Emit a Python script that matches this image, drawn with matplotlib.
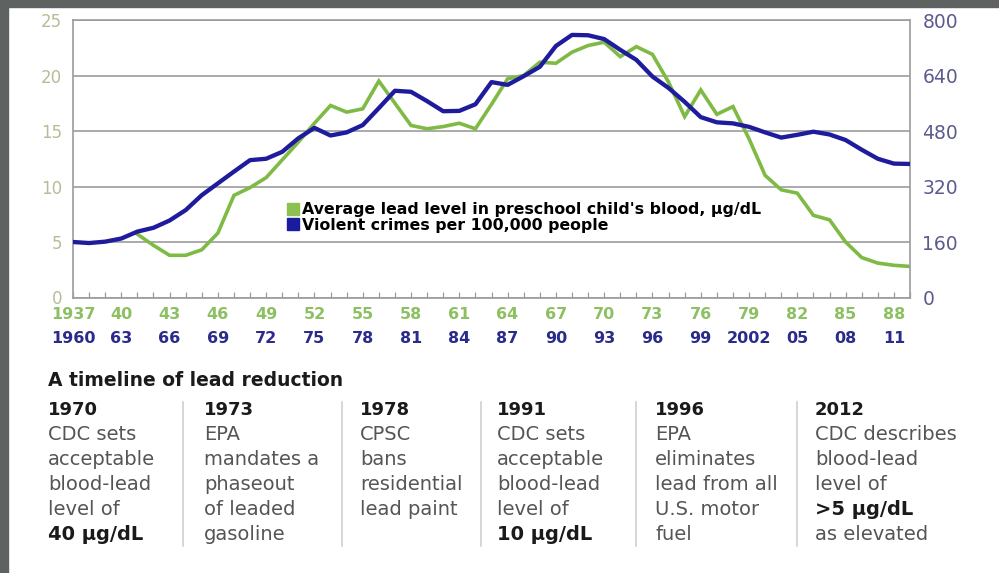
import matplotlib.pyplot as plt
from matplotlib.lines import Line2D
from matplotlib.patches import Rectangle

# lead level in preschool children's blood (ug/dL), 1941-1989
lead_years = list(range(1941, 1990))
lead_values = [5.7, 4.7, 3.8, 3.8, 4.3, 5.8, 9.2, 9.9, 10.8, 12.4,
               14.0, 15.7, 17.3, 16.7, 17.0, 19.5, 17.5, 15.5, 15.2, 15.4,
               15.7, 15.2, 17.4, 19.7, 20.0, 21.2, 21.1, 22.1, 22.7, 23.0,
               21.7, 22.6, 21.9, 19.4, 16.3, 18.7, 16.5, 17.2, 14.3, 11.0,
               9.7, 9.4, 7.4, 7.0, 5.0, 3.6, 3.1, 2.9, 2.8]

# violent crimes per 100,000 people, 1960-2012
crime_years = list(range(1960, 2013))
crime_values = [160, 157, 161, 170, 190, 201, 222, 252, 295, 329,
                363, 396, 400, 420, 459, 489, 467, 476, 497, 546,
                596, 593, 566, 537, 538, 557, 621, 613, 638, 665,
                725, 757, 756, 745, 714, 685, 637, 604, 564, 520,
                505, 502, 492, 476, 461, 469, 478, 470, 454, 426,
                400, 386, 385]

lead_ticks = list(range(1937, 1989, 3))
lead_labels = ['1937'] + [str(y)[2:] for y in lead_ticks[1:]]
crime_ticks = list(range(1960, 2012, 3))
crime_labels = ['1960', '63', '66', '69', '72', '75', '78', '81', '84', '87',
                '90', '93', '96', '99', '2002', '05', '08', '11']

timeline_years = ['1970', '1973', '1978', '1991', '1996', '2012']
timeline_text = [
    ['CDC sets', 'acceptable', 'blood-lead', 'level of', '40 µg/dL'],
    ['EPA', 'mandates a', 'phaseout', 'of leaded', 'gasoline'],
    ['CPSC', 'bans', 'residential', 'lead paint'],
    ['CDC sets', 'acceptable', 'blood-lead', 'level of', '10 µg/dL'],
    ['EPA', 'eliminates', 'lead from all', 'U.S. motor', 'fuel'],
    ['CDC describes', 'blood-lead', 'level of', '>5 µg/dL', 'as elevated'],
]
bold_lines = ['40 µg/dL', '10 µg/dL', '>5 µg/dL']

green = '#7fba45'
blue = '#1e1c9c'
gray = '#9c9c9c'

fig = plt.figure(figsize=(9.99, 5.73), dpi=100)
fig.patches.append(Rectangle((0, 1 - 7 / 573), 1, 7 / 573, transform=fig.transFigure,
                             color='#5e6260', zorder=0))
fig.patches.append(Rectangle((0, 0), 8 / 999, 1, transform=fig.transFigure,
                             color='#5e6260', zorder=0))

pos = [73 / 999, 1 - 297.5 / 573, 837 / 999, 277.5 / 573]
ax = fig.add_axes(pos)
ax.plot(lead_years, lead_values, color=green, lw=2.6, solid_joinstyle='miter')
ax.set_xlim(1937, 1989)
ax.set_ylim(0, 25)
ax.set_yticks([0, 5, 10, 15, 20, 25])
ax.tick_params(axis='y', length=0, pad=8, labelsize=12, labelcolor='#b3be98')
ax.set_xticks(range(1937, 1990))
ax.set_xticklabels([lead_labels[lead_ticks.index(y)] if y in lead_ticks else ''
                    for y in range(1937, 1990)])
ax.tick_params(axis='x', direction='in', length=4.5, width=0.9, color=gray,
               pad=7, labelsize=11.5, labelcolor='#8dc062')
for t in ax.get_xticklabels():
    t.set_fontweight('bold')
ax.grid(axis='y', color=gray, lw=1.2)
ax.set_axisbelow(True)
for s in ax.spines.values():
    s.set_color(gray)
    s.set_linewidth(1.2)

# crime series on its own axes (x shifted by 23 years, right-hand scale)
ax2 = fig.add_axes(pos, frameon=False)
ax2.plot(crime_years, crime_values, color=blue, lw=3.1)
ax2.set_xlim(1960, 2012)
ax2.set_ylim(0, 800)
ax2.yaxis.tick_right()
ax2.set_yticks([0, 160, 320, 480, 640, 800])
ax2.tick_params(axis='y', length=0, pad=9, labelsize=13.5, labelcolor='#5b5b8e')
ax2.set_xticks(crime_ticks)
ax2.set_xticklabels(crime_labels, fontweight='bold')
ax2.tick_params(axis='x', length=0, pad=24, labelsize=11.5, labelcolor='#2b2b8c')

handles = [Line2D([], [], marker='s', ls='', color='#8cc152', markersize=8),
           Line2D([], [], marker='s', ls='', color='#1b1ba0', markersize=8)]
ax2.legend(handles, ["Average lead level in preschool child's blood, µg/dL",
                     'Violent crimes per 100,000 people'],
           loc='upper left', bbox_to_anchor=(0.237, 0.395), frameon=False,
           handletextpad=0.15, labelspacing=0.05, handlelength=0.9,
           prop={'weight': 'bold', 'size': 11.3})

# timeline of lead reduction
fig.text(48 / 999, 1 - 380 / 573, 'A timeline of lead reduction', fontsize=13.5,
         fontweight='bold', color='#1a1a1a', va='center', ha='left')
col_x = [48, 204, 360, 497, 655, 815]
sep_x = [183, 342, 481, 636, 797]
for x in sep_x:
    fig.add_artist(Line2D([x / 999, x / 999], [1 - 402 / 573, 1 - 546 / 573],
                          color='#d0d0d0', lw=1.2))
for x, yr, lines in zip(col_x, timeline_years, timeline_text):
    fig.text(x / 999, 1 - 410 / 573, yr, fontsize=13, fontweight='bold',
             color='#1a1a1a', va='center', ha='left')
    for i, line in enumerate(lines):
        bold = line in bold_lines
        fig.text(x / 999, 1 - (435 + 24.8 * i) / 573, line, fontsize=14,
                 fontweight='bold' if bold else 'normal',
                 color='#1a1a1a' if bold else '#555555', va='center', ha='left')

fig.savefig('out.png', dpi=100, facecolor='white')
